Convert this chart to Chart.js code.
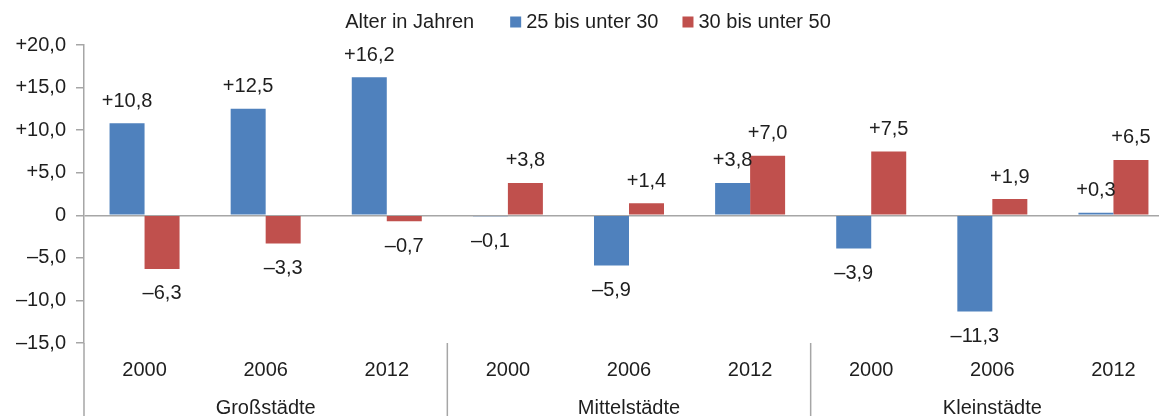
<!DOCTYPE html>
<html>
<head>
<meta charset="utf-8">
<script src="https://cdn.jsdelivr.net/npm/chart.js@4.4.1/dist/chart.umd.min.js"></script>
<style>
  html, body { margin: 0; padding: 0; background: #fff; overflow: hidden; }
  #wrap { width: 1159px; height: 416px; overflow: hidden; }
</style>
</head>
<body>
<div id="wrap"><canvas id="chart" width="1174" height="416"></canvas></div>
<script>
// categories and groups
var years = ['2000', '2006', '2012', '2000', '2006', '2012', '2000', '2006', '2012'];
var groups = ['Großstädte', 'Mittelstädte', 'Kleinstädte'];
var legendTitle = 'Alter in Jahren';
var seriesNames = ['25 bis unter 30', '30 bis unter 50'];

// values
var age25to30 = [10.8, 12.5, 16.2, -0.1, -5.9, 3.8, -3.9, -11.3, 0.3];
var age30to50 = [-6.3, -3.3, -0.7, 3.8, 1.4, 7.0, 7.5, 1.9, 6.5];

// y axis ticks
var yMin = -15, yMax = 20, yStep = 5;

var colors = ['#4F81BD', '#C0504D'];
var fontFamily = '"Liberation Sans", Arial, sans-serif';
var fontSize = 20;
var textColor = '#1E1E1E';
var lineColor = '#A6A6A6';

function fmt(v, isTick) {
  if (v === 0 && isTick) return '0';
  var s = Math.abs(v).toFixed(1).replace('.', ',');
  return (v < 0 ? '\u2013' : '+') + s;
}

// legend, group labels, separators, data labels
var extras = {
  id: 'extras',
  afterDatasetsDraw: function(chart) {
    var ctx = chart.ctx;
    ctx.save();
    ctx.font = fontSize + 'px ' + fontFamily;
    ctx.fillStyle = textColor;
    ctx.textAlign = 'center';
    ctx.textBaseline = 'middle';
    chart.data.datasets.forEach(function(ds, i) {
      chart.getDatasetMeta(i).data.forEach(function(el, j) {
        var v = ds.data[j];
        var y = v >= 0 ? el.y - 22 : el.y + 25;
        ctx.fillText(fmt(v, false), el.x, y);
      });
    });
    ctx.restore();
  },
  afterDraw: function(chart) {
    var ctx = chart.ctx;
    var area = chart.chartArea;
    var x = chart.scales.x;
    var H = chart.height;
    ctx.save();
    // lines below the plot
    ctx.strokeStyle = lineColor;
    ctx.lineWidth = 1.5;
    var step = x.getPixelForValue(1) - x.getPixelForValue(0);
    ctx.beginPath();
    ctx.moveTo(area.left, area.bottom);
    ctx.lineTo(area.left, H);
    [3, 6].forEach(function(k) {
      var px = x.getPixelForValue(k) - step / 2;
      ctx.moveTo(px, area.bottom);
      ctx.lineTo(px, H);
    });
    ctx.stroke();
    // group labels
    ctx.font = fontSize + 'px ' + fontFamily;
    ctx.fillStyle = textColor;
    ctx.textAlign = 'center';
    ctx.textBaseline = 'middle';
    groups.forEach(function(g, k) {
      ctx.fillText(g, x.getPixelForValue(k * 3 + 1), 408);
    });
    // legend
    var box = 11, gapBox = 5, gapItem = 24, gapTitle = 36;
    var w = ctx.measureText(legendTitle).width + gapTitle;
    seriesNames.forEach(function(n, i) {
      w += box + gapBox + ctx.measureText(n).width + (i < seriesNames.length - 1 ? gapItem : 0);
    });
    var lx = 588 - w / 2, ly = 22;
    ctx.textAlign = 'left';
    ctx.fillText(legendTitle, lx, ly);
    lx += ctx.measureText(legendTitle).width + gapTitle;
    seriesNames.forEach(function(n, i) {
      ctx.fillStyle = colors[i];
      ctx.fillRect(lx, ly - box / 2, box, box);
      lx += box + gapBox;
      ctx.fillStyle = textColor;
      ctx.fillText(n, lx, ly);
      lx += ctx.measureText(n).width + gapItem;
    });
    ctx.restore();
  }
};

new Chart(document.getElementById('chart'), {
  type: 'bar',
  data: {
    labels: years,
    datasets: [{
      label: seriesNames[0],
      data: age25to30,
      backgroundColor: colors[0]
    }, {
      label: seriesNames[1],
      data: age30to50,
      backgroundColor: colors[1]
    }]
  },
  options: {
    responsive: false,
    animation: false,
    events: [],
    categoryPercentage: 0.578,
    barPercentage: 1,
    layout: {
      padding: { top: 45, right: 0, bottom: 0, left: 0 }
    },
    plugins: {
      legend: { display: false },
      tooltip: { enabled: false }
    },
    scales: {
      x: {
        grid: { display: false, drawTicks: false },
        border: { display: false },
        ticks: {
          color: textColor,
          font: { family: fontFamily, size: fontSize },
          padding: 15,
          maxRotation: 0,
          autoSkip: false
        },
        afterFit: function(s) { s.height = 73; }
      },
      y: {
        min: yMin,
        max: yMax,
        border: { display: true, color: lineColor, width: 1.5 },
        grid: {
          color: function(c) { return c.tick && c.tick.value === 0 ? lineColor : 'rgba(0,0,0,0)'; },
          lineWidth: 1.5,
          tickColor: lineColor,
          tickLength: 8
        },
        ticks: {
          stepSize: yStep,
          color: textColor,
          font: { family: fontFamily, size: fontSize },
          padding: 10,
          callback: function(v) { return fmt(v, true); }
        },
        afterFit: function(s) { s.width = 84; }
      }
    }
  },
  plugins: [extras]
});
</script>
</body>
</html>
